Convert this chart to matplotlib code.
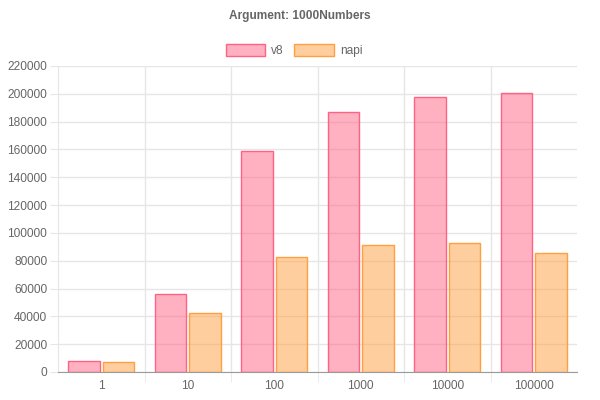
import matplotlib
matplotlib.use("Agg")
import matplotlib.pyplot as plt
import numpy as np

plt.rcParams['font.family'] = ['Liberation Sans', 'DejaVu Sans']

# datos
categorias = ["1", "10", "100", "1000", "10000", "100000"]
v8 = [7600, 55800, 159000, 186800, 198000, 200900]
napi = [6900, 42200, 82700, 91100, 92500, 85600]

gris_texto = "#666666"
gris_grid = "#e6e6e6"

fig = plt.figure(figsize=(6, 4), dpi=100)
ax = fig.add_axes([58 / 600, 1 - 372 / 400, (577 - 58) / 600, (372 - 66) / 400])

x = np.arange(len(categorias))
ancho = 0.36
ax.bar(x - 0.2, v8, ancho, color=(1, 99 / 255, 132 / 255, 0.5),
       edgecolor=(1, 99 / 255, 132 / 255), linewidth=1, label="v8", zorder=3)
ax.bar(x + 0.2, napi, ancho, color=(1, 159 / 255, 64 / 255, 0.5),
       edgecolor=(1, 159 / 255, 64 / 255), linewidth=1, label="napi", zorder=3)

ax.set_xlim(-0.5, len(categorias) - 0.5)
ax.set_ylim(0, 220000)
ax.set_yticks(np.arange(0, 220001, 20000))
ax.set_xticks(x)
ax.set_xticklabels(categorias)
ax.set_xticks(np.arange(0.5, len(categorias) - 1, 1), minor=True)

ax.tick_params(axis='y', length=5.8, color=gris_grid, labelcolor=gris_texto,
               labelsize=8.6, pad=2)
ax.tick_params(axis='x', which='major', length=0, labelcolor=gris_texto,
               labelsize=8.6, pad=6)
ax.tick_params(axis='x', which='minor', length=7.2, color=gris_grid)

ax.grid(axis='y', color=gris_grid, linewidth=1, zorder=0)
ax.grid(axis='x', which='minor', color=gris_grid, linewidth=1, zorder=0)

for s in ['top', 'right']:
    ax.spines[s].set_visible(False)
ax.spines['left'].set_color(gris_grid)
ax.spines['bottom'].set_color("#9a9a9a")

fig.text(0.5, 1 - 16 / 400, "Argument: 1000Numbers", ha='center', va='center',
         fontsize=8.6, fontweight='bold', color=gris_texto)

leg = ax.legend(loc='center', bbox_to_anchor=(0.49, 1 - 50.5 / 400),
                bbox_transform=fig.transFigure, ncol=2, frameon=False,
                fontsize=8.6, handlelength=3.33, handleheight=1.1,
                handletextpad=0.5, columnspacing=0.85, labelcolor=gris_texto)

fig.savefig("out.png", dpi=100)
